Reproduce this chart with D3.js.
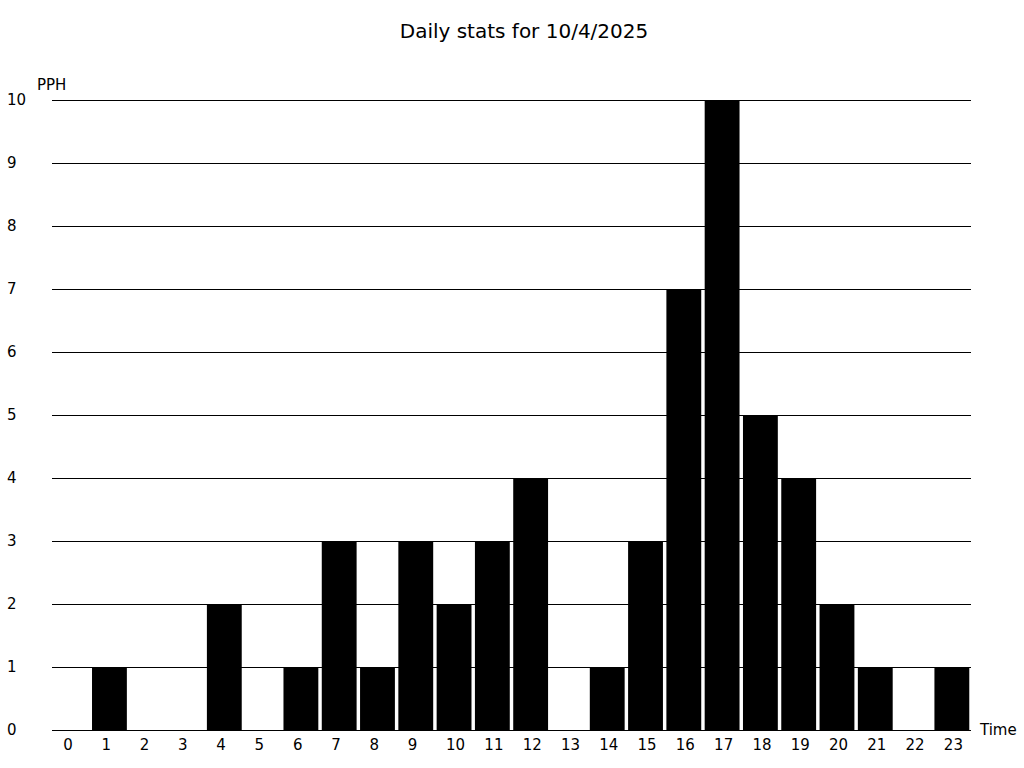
<!DOCTYPE html>
<html>
<head>
<meta charset="utf-8">
<script src="https://cdn.jsdelivr.net/npm/d3@7"></script>
<style>
  body { margin: 0; background: #fff; }
  text { font-family: "DejaVu Sans", sans-serif; }
</style>
</head>
<body>
<div id="chart"></div>
<script>
var hours = d3.range(0, 24);
var pph = [0, 1, 0, 0, 2, 0, 1, 3, 1, 3, 2, 3, 4, 0, 1, 3, 7, 10, 5, 4, 2, 1, 0, 1];
var yTicks = d3.range(0, 11);

var width = 1024, height = 768;
var plotLeft = 52, plotRight = 971, plotTop = 100, plotBottom = 730;

var svg = d3.select("#chart").append("svg")
    .attr("width", width)
    .attr("height", height);

var xScale = d3.scaleBand()
    .domain(hours)
    .range([plotLeft, plotRight])
    .paddingInner(0.09)
    .paddingOuter(0.045);

var yScale = d3.scaleLinear()
    .domain([0, 10])
    .range([plotBottom, plotTop]);

// title
svg.append("text")
    .attr("x", 524)
    .attr("y", 38)
    .attr("text-anchor", "middle")
    .attr("font-size", 20)
    .text("Daily stats for 10/4/2025");

// gridlines + y labels
var yAxis = d3.axisLeft(yScale)
    .tickValues(yTicks)
    .tickSize(-(plotRight - plotLeft))
    .tickFormat(d3.format("d"));

var gy = svg.append("g")
    .attr("transform", `translate(${plotLeft},0)`)
    .call(yAxis);
gy.select(".domain").remove();
gy.selectAll(".tick line")
    .attr("stroke", "#000")
    .attr("stroke-width", 1);
gy.selectAll(".tick text")
    .attr("x", 7 - plotLeft)
    .attr("text-anchor", "start")
    .attr("font-size", 15)
    .attr("font-family", "DejaVu Sans, sans-serif")
    .attr("fill", "#000");

// bars
svg.append("g").selectAll("rect")
    .data(pph)
    .join("rect")
    .attr("x", (d, i) => xScale(hours[i]))
    .attr("y", d => yScale(d))
    .attr("width", xScale.bandwidth())
    .attr("height", d => plotBottom - yScale(d))
    .attr("fill", "#000");

// x labels
var xAxis = d3.axisBottom(xScale).tickSize(0);
var gx = svg.append("g")
    .attr("transform", `translate(0,${plotBottom})`)
    .call(xAxis);
gx.select(".domain").remove();
gx.selectAll(".tick text")
    .attr("x", -8)
    .attr("y", 20)
    .attr("dy", 0)
    .attr("text-anchor", "start")
    .attr("font-size", 15)
    .attr("font-family", "DejaVu Sans, sans-serif")
    .attr("fill", "#000");

// axis names
svg.append("text")
    .attr("x", 37)
    .attr("y", 90)
    .attr("font-size", 15)
    .text("PPH");
svg.append("text")
    .attr("x", 980)
    .attr("y", 735)
    .attr("font-size", 15)
    .text("Time");
</script>
</body>
</html>
